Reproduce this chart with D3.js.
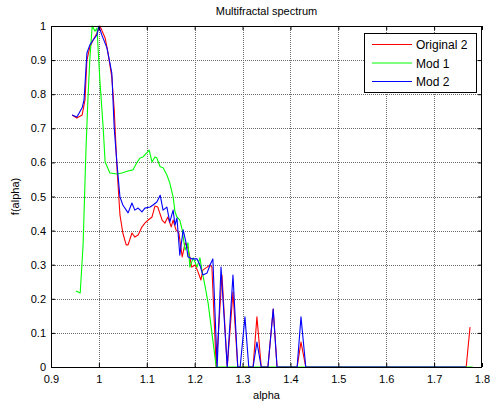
<!DOCTYPE html>
<html><head><meta charset="utf-8">
<script src="https://cdn.jsdelivr.net/npm/d3@7/dist/d3.min.js"></script>
<style>body{margin:0;background:#fff}text{font-family:"Liberation Sans",Arial,sans-serif}</style>
</head><body>
<svg id="c" width="491" height="403"></svg>
<script>
const xTicks = [0.9,1,1.1,1.2,1.3,1.4,1.5,1.6,1.7,1.8];
const yTicks = [0,0.1,0.2,0.3,0.4,0.5,0.6,0.7,0.8,0.9,1];
const seriesNames = ["Original 2","Mod 1","Mod 2"];
const seriesColors = ["#ff0000","#00ff00","#0000ff"];

const origAlpha = [0.944,0.954,0.965,0.971,0.975,0.981,0.988,0.996,1.002,1.006,1.013,1.019,1.027,1.032,1.038,1.044,1.050,1.057,1.061,1.069,1.075,1.082,1.090,1.096,1.103,1.111,1.117,1.123,1.132,1.138,1.144,1.151,1.155,1.161,1.167,1.174,1.180,1.186,1.194,1.201,1.207,1.213,1.217,1.226,1.232,1.236,1.245,1.257,1.268,1.280,1.290,1.322,1.330,1.339,1.353,1.364,1.372,1.414,1.422,1.432,1.767,1.775];
const origF =     [0.739,0.730,0.739,0.783,0.900,0.938,0.959,0.979,1.000,0.988,0.965,0.921,0.850,0.754,0.578,0.446,0.393,0.358,0.358,0.393,0.381,0.387,0.411,0.422,0.431,0.440,0.472,0.469,0.431,0.422,0.440,0.411,0.431,0.402,0.393,0.323,0.364,0.349,0.293,0.299,0.279,0.255,0.284,0.293,0.299,0.293,0,0.270,0,0.220,0,0,0.147,0,0,0.170,0,0,0.073,0,0,0.117];

const mod1Alpha = [0.952,0.961,0.967,0.973,0.977,0.981,0.986,0.992,0.996,1.002,1.009,1.013,1.023,1.038,1.048,1.061,1.071,1.080,1.086,1.092,1.100,1.105,1.111,1.117,1.121,1.128,1.134,1.142,1.148,1.155,1.159,1.163,1.169,1.174,1.176,1.180,1.186,1.190,1.197,1.205,1.211,1.215,1.222,1.228,1.236,1.245,1.781];
const mod1F =     [0.223,0.217,0.358,0.636,0.783,0.900,1.000,0.985,0.994,0.842,0.701,0.601,0.569,0.566,0.569,0.575,0.578,0.601,0.613,0.616,0.628,0.636,0.601,0.616,0.613,0.587,0.584,0.563,0.540,0.499,0.455,0.440,0.431,0.402,0.381,0.343,0.364,0.293,0.320,0.293,0.320,0.284,0.235,0.188,0.100,0,0];

const mod2Alpha = [0.944,0.954,0.965,0.969,0.975,0.981,0.988,0.996,1.000,1.006,1.017,1.027,1.032,1.038,1.044,1.050,1.061,1.069,1.075,1.082,1.090,1.096,1.107,1.113,1.121,1.128,1.134,1.142,1.148,1.155,1.159,1.163,1.169,1.176,1.182,1.186,1.194,1.205,1.211,1.217,1.226,1.232,1.238,1.247,1.255,1.268,1.280,1.290,1.295,1.305,1.313,1.322,1.330,1.339,1.353,1.364,1.372,1.414,1.422,1.432,1.767];
const mod2F =     [0.739,0.733,0.760,0.783,0.921,0.944,0.959,0.974,1.000,0.974,0.935,0.862,0.701,0.592,0.499,0.475,0.452,0.481,0.460,0.466,0.455,0.466,0.469,0.475,0.484,0.504,0.460,0.469,0.425,0.460,0.416,0.437,0.328,0.402,0.364,0.323,0.317,0.317,0.299,0.270,0.276,0.299,0.317,0,0.293,0,0.270,0,0,0.147,0,0,0.073,0,0,0.170,0,0,0.147,0,0];

const W = 491, H = 403;
const L = 51, R = 482, T = 26, B = 367;
const svg = d3.select("#c");
svg.append("rect").attr("width",W).attr("height",H).attr("fill","#fff");

const x = d3.scaleLinear().domain([0.9,1.8]).range([L,R]);
const y = d3.scaleLinear().domain([0,1]).range([B,T]);
const fmt = d => d3.format("")(+d.toFixed(1));

// grid
const grid = svg.append("g").attr("stroke","#6e6e6e").attr("stroke-dasharray","1,1").attr("stroke-width",1);
xTicks.slice(1,-1).forEach(v=>grid.append("line").attr("x1",Math.round(x(v))+0.5).attr("x2",Math.round(x(v))+0.5).attr("y1",T).attr("y2",B));
yTicks.slice(1,-1).forEach(v=>grid.append("line").attr("y1",Math.round(y(v))+0.5).attr("y2",Math.round(y(v))+0.5).attr("x1",L).attr("x2",R));

// series
const series = [[origAlpha,origF],[mod1Alpha,mod1F],[mod2Alpha,mod2F]];
const line = d3.line().x(d=>x(d[0])).y(d=>y(d[1]));
series.forEach((s,i)=>{
  const pts = s[0].map((a,j)=>[a,s[1][j]]);
  svg.append("path").attr("d",line(pts)).attr("fill","none").attr("stroke",seriesColors[i]).attr("stroke-width",1.1).attr("stroke-linejoin","round");
});

// axes
const tl = 4;
const axB = svg.append("g").attr("transform",`translate(0,${B})`).call(d3.axisBottom(x).tickValues(xTicks).tickSize(-tl).tickPadding(8).tickFormat(fmt));
const axT = svg.append("g").attr("transform",`translate(0,${T})`).call(d3.axisTop(x).tickValues(xTicks).tickSize(-tl).tickFormat(""));
const axL = svg.append("g").attr("transform",`translate(${L},0)`).call(d3.axisLeft(y).tickValues(yTicks).tickSize(-tl).tickPadding(5).tickFormat(fmt));
const axR = svg.append("g").attr("transform",`translate(${R},0)`).call(d3.axisRight(y).tickValues(yTicks).tickSize(-tl).tickFormat(""));
[axB,axT,axL,axR].forEach(a=>{
  a.select(".domain").remove();
  a.selectAll("line").attr("stroke","#000");
  a.selectAll("text").attr("font-size",11).attr("fill","#000").attr("font-family","Liberation Sans, Arial, sans-serif");
});
svg.append("rect").attr("x",L+0.5).attr("y",T+0.5).attr("width",R-L-1).attr("height",B-T).attr("fill","none").attr("stroke","#000");

// labels
svg.append("text").attr("x",(L+R)/2).attr("y",15).attr("text-anchor","middle").attr("font-size",11).text("Multifractal spectrum");
svg.append("text").attr("x",(L+R)/2).attr("y",399).attr("text-anchor","middle").attr("font-size",11).text("alpha");
svg.append("text").attr("transform",`translate(19,${(T+B)/2}) rotate(-90)`).attr("text-anchor","middle").attr("font-size",11).text("f(alpha)");

// legend
const lg = svg.append("g");
lg.append("rect").attr("x",364.5).attr("y",33.5).attr("width",112).attr("height",59).attr("fill","#fff").attr("stroke","#000");
seriesNames.forEach((n,i)=>{
  const yy = 44.5 + i*18.5;
  lg.append("line").attr("x1",372).attr("x2",412).attr("y1",yy).attr("y2",yy).attr("stroke",seriesColors[i]).attr("stroke-width",1.1);
  lg.append("text").attr("x",416).attr("y",yy+4.5).attr("font-size",12).text(n);
});
</script>
</body></html>
